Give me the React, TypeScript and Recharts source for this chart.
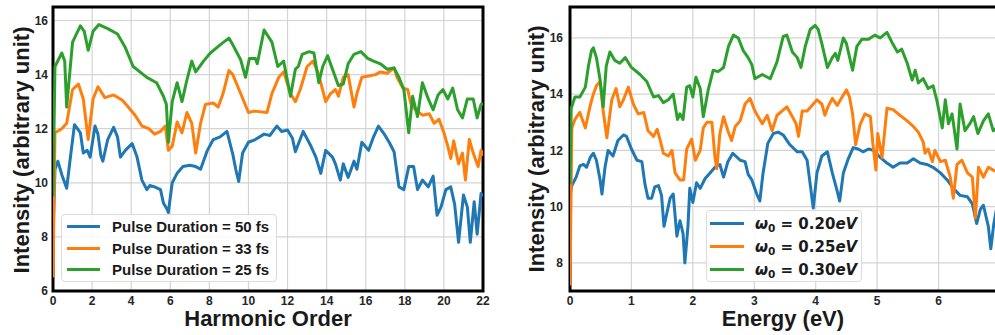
import React from 'react';
import { LineChart, Line, XAxis, YAxis, CartesianGrid, ReferenceArea, Legend } from 'recharts';

const FONT = '"Liberation Sans", Arial, Helvetica, sans-serif';
const MATH_FONT = '"DejaVu Sans", sans-serif';
const COLORS = ['#1f77b4', '#ff7f0e', '#2ca02c'];

// axis ticks
const harmonicTicks = [0, 2, 4, 6, 8, 10, 12, 14, 16, 18, 20, 22];
const harmonicYTicks = [6, 8, 10, 12, 14, 16];
const energyTicks = [0, 1, 2, 3, 4, 5, 6];
const energyYTicks = [8, 10, 12, 14, 16];

const pulseLabels = ['Pulse Duration = 50 fs', 'Pulse Duration = 33 fs', 'Pulse Duration = 25 fs'];
const omegaLabels = ['0.20', '0.25', '0.30'];

// ---- left panel: intensity vs harmonic order ----
const pd50X = [0, 0.1, 0.25, 0.45, 0.7, 0.9, 1.1, 1.25, 1.4, 1.55, 1.75, 1.9, 2.15, 2.3, 2.45, 2.55, 2.8, 3.1, 3.3, 3.45, 3.7, 4.05, 4.3, 4.55, 4.8, 4.95, 5.2, 5.5, 5.65, 5.85, 5.9, 6.1, 6.35, 6.65, 7.0, 7.3, 7.55, 7.9, 8.2, 8.55, 8.9, 9.2, 9.35, 9.5, 9.7, 10.0, 10.35, 10.8, 11.1, 11.45, 11.7, 12.0, 12.25, 12.4, 12.8, 13.2, 13.45, 13.7, 13.95, 14.3, 14.45, 14.7, 14.85, 15.1, 15.4, 15.55, 15.8, 16.15, 16.4, 16.65, 16.95, 17.2, 17.45, 17.7, 17.95, 18.2, 18.45, 18.65, 18.9, 19.2, 19.45, 19.65, 19.85, 20.1, 20.35, 20.55, 20.75, 21.0, 21.2, 21.35, 21.55, 21.7, 21.9, 22.0];
const pd50Y = [8.0, 10.5, 10.8, 10.3, 9.8, 11.0, 12.15, 12.0, 11.85, 11.1, 11.2, 10.95, 12.1, 11.8, 11.0, 10.8, 11.6, 12.05, 11.7, 10.95, 11.2, 11.45, 10.95, 10.1, 9.75, 9.9, 9.85, 9.75, 9.25, 9.0, 8.9, 10.0, 10.35, 10.6, 10.65, 10.6, 10.5, 11.2, 11.6, 11.7, 11.9, 11.05, 10.5, 10.05, 11.1, 11.5, 11.6, 11.8, 11.75, 12.1, 11.9, 11.95, 11.65, 11.15, 11.9, 11.35, 10.95, 10.35, 11.2, 10.95, 10.7, 10.1, 10.7, 10.2, 10.8, 10.5, 11.5, 11.2, 11.7, 12.1, 11.8, 11.5, 11.15, 9.85, 9.75, 10.6, 10.6, 9.75, 10.1, 9.85, 10.25, 8.8, 9.1, 9.75, 9.85, 9.2, 7.8, 9.55, 9.1, 7.8, 9.3, 8.1, 9.6, 9.5];

const pd33X = [0, 0.1, 0.45, 0.7, 1.0, 1.3, 1.55, 1.8, 2.05, 2.3, 2.65, 3.1, 3.55, 3.85, 4.2, 4.55, 4.9, 5.2, 5.5, 5.75, 5.9, 6.1, 6.35, 6.6, 6.85, 7.1, 7.3, 7.55, 7.8, 8.2, 8.45, 8.7, 9.0, 9.2, 9.6, 10.0, 10.3, 10.95, 11.2, 11.55, 11.8, 12.15, 12.4, 12.65, 13.0, 13.3, 13.55, 13.7, 13.95, 14.2, 14.45, 14.6, 14.85, 15.1, 15.4, 15.55, 15.8, 16.15, 16.5, 16.75, 17.1, 17.45, 17.6, 17.9, 18.15, 18.3, 18.55, 18.9, 19.25, 19.5, 19.75, 20.0, 20.2, 20.35, 20.5, 20.75, 20.95, 21.1, 21.3, 21.5, 21.75, 21.9, 22.0];
const pd33Y = [6.5, 11.85, 12.0, 12.2, 13.45, 13.65, 13.1, 11.6, 13.1, 13.55, 13.15, 13.25, 13.05, 12.8, 12.5, 12.1, 12.0, 11.8, 11.9, 12.1, 11.2, 11.35, 12.25, 11.85, 12.6, 12.2, 11.1, 12.2, 12.9, 12.95, 12.8, 13.3, 14.15, 14.0, 13.3, 12.6, 12.65, 12.6, 13.3, 13.9, 14.1, 13.3, 13.0, 13.45, 14.3, 14.5, 14.1, 13.7, 13.0, 13.3, 13.45, 13.2, 13.9, 14.0, 12.8, 13.3, 13.9, 13.95, 14.0, 14.1, 14.05, 14.25, 13.9, 13.5, 13.45, 12.95, 12.7, 12.5, 12.55, 12.2, 12.35, 11.85, 11.35, 10.9, 11.55, 10.7, 11.1, 10.1, 11.6, 11.1, 10.6, 11.2, 11.0];

const pd25X = [0, 0.1, 0.45, 0.6, 0.7, 1.0, 1.4, 1.6, 1.8, 2.05, 2.35, 2.8, 3.3, 3.7, 4.1, 4.8, 5.3, 5.65, 5.8, 5.9, 6.1, 6.35, 6.6, 6.85, 7.1, 7.3, 7.5, 7.7, 8.05, 8.55, 9.0, 9.2, 9.6, 9.85, 10.05, 10.35, 10.45, 10.8, 11.2, 11.5, 11.8, 12.15, 12.4, 12.55, 12.75, 13.1, 13.35, 13.6, 13.8, 14.05, 14.3, 14.6, 14.85, 15.1, 15.4, 15.75, 16.1, 16.4, 16.75, 17.1, 17.45, 17.7, 17.95, 18.2, 18.4, 18.65, 18.9, 19.2, 19.45, 19.7, 19.95, 20.2, 20.45, 20.7, 20.95, 21.2, 21.5, 21.7, 21.9, 22.0];
const pd25Y = [9.5, 14.3, 14.8, 14.5, 12.8, 15.2, 15.8, 15.6, 14.9, 15.6, 15.85, 15.7, 15.5, 15.0, 14.3, 13.9, 13.7, 13.2, 12.9, 11.5, 13.0, 13.7, 13.0, 13.8, 14.5, 14.1, 14.3, 14.5, 14.8, 15.1, 15.35, 15.1, 14.55, 13.9, 14.6, 14.6, 14.4, 15.65, 15.2, 14.3, 14.5, 13.2, 14.2, 14.3, 14.75, 14.85, 14.8, 13.7, 14.3, 14.7, 14.2, 13.6, 13.65, 14.4, 14.75, 14.85, 14.6, 14.5, 14.4, 14.2, 14.25, 13.9, 13.45, 11.85, 13.2, 12.45, 13.7, 13.1, 12.7, 13.25, 13.45, 13.1, 13.5, 12.7, 12.4, 13.1, 13.1, 12.4, 12.9, 12.9];

// ---- right panel: intensity vs energy ----
const w20X = [0, 0.03, 0.1, 0.16, 0.22, 0.27, 0.33, 0.38, 0.43, 0.49, 0.52, 0.57, 0.62, 0.7, 0.78, 0.87, 0.92, 1.0, 1.09, 1.17, 1.22, 1.27, 1.33, 1.38, 1.44, 1.49, 1.53, 1.58, 1.63, 1.68, 1.74, 1.79, 1.84, 1.87, 1.92, 1.95, 2.0, 2.06, 2.12, 2.2, 2.28, 2.36, 2.44, 2.5, 2.57, 2.65, 2.77, 2.85, 2.9, 2.96, 3.04, 3.09, 3.14, 3.22, 3.31, 3.39, 3.47, 3.58, 3.7, 3.78, 3.86, 3.91, 3.96, 4.02, 4.1, 4.19, 4.27, 4.35, 4.39, 4.45, 4.53, 4.61, 4.69, 4.77, 4.86, 4.94, 5.05, 5.16, 5.26, 5.37, 5.49, 5.59, 5.7, 5.81, 5.91, 6.03, 6.14, 6.24, 6.35, 6.47, 6.55, 6.62, 6.68, 6.73, 6.81, 6.85, 6.9, 6.95, 7.0];
const w20Y = [10.4, 10.75, 11.05, 11.45, 11.5, 11.4, 11.75, 11.9, 11.65, 10.95, 10.45, 11.4, 12.0, 11.8, 12.35, 12.55, 12.5, 12.05, 11.65, 11.6, 10.8, 10.3, 10.3, 10.7, 10.75, 10.4, 9.3, 9.8, 10.3, 10.45, 8.95, 9.5, 9.05, 8.0, 9.3, 10.65, 10.15, 10.85, 10.65, 11.0, 11.2, 11.4, 11.5, 11.05, 11.6, 11.9, 11.65, 11.6, 11.15, 10.95, 10.45, 10.2, 11.15, 12.25, 12.6, 12.65, 12.55, 12.2, 11.95, 11.95, 11.65, 10.8, 9.95, 11.2, 11.8, 11.95, 11.2, 10.55, 10.2, 11.2, 11.7, 12.1, 12.05, 11.95, 12.05, 12.0, 11.75, 11.55, 11.4, 11.55, 11.55, 11.7, 11.55, 11.5, 11.4, 11.2, 10.95, 10.65, 10.4, 10.35, 10.1, 9.4, 9.9, 10.05, 9.3, 8.5, 9.4, 10.0, 10.0];

const w25X = [0, 0.03, 0.08, 0.16, 0.25, 0.33, 0.38, 0.43, 0.49, 0.54, 0.6, 0.68, 0.75, 0.81, 0.87, 0.95, 1.03, 1.11, 1.2, 1.27, 1.36, 1.42, 1.47, 1.52, 1.6, 1.66, 1.71, 1.79, 1.85, 1.9, 1.98, 2.04, 2.12, 2.17, 2.23, 2.31, 2.36, 2.39, 2.44, 2.5, 2.57, 2.63, 2.69, 2.77, 2.85, 2.93, 3.01, 3.13, 3.21, 3.29, 3.37, 3.45, 3.53, 3.62, 3.68, 3.72, 3.78, 3.86, 3.94, 4.02, 4.1, 4.15, 4.2, 4.27, 4.35, 4.43, 4.5, 4.55, 4.6, 4.65, 4.72, 4.8, 4.89, 4.93, 4.98, 5.01, 5.08, 5.16, 5.26, 5.37, 5.49, 5.59, 5.67, 5.75, 5.78, 5.83, 5.9, 5.94, 6.03, 6.11, 6.19, 6.24, 6.3, 6.38, 6.47, 6.55, 6.6, 6.65, 6.73, 6.81, 6.89, 7.0];
const w25Y = [7.2, 12.8, 13.1, 13.35, 12.8, 13.6, 14.0, 14.3, 14.45, 13.4, 12.45, 13.8, 14.2, 13.55, 13.8, 14.25, 13.65, 13.3, 13.35, 12.7, 12.5, 12.75, 12.35, 11.9, 11.8, 12.0, 11.2, 10.95, 10.95, 12.05, 12.4, 11.65, 12.0, 12.8, 13.0, 13.0, 11.75, 11.35, 12.6, 13.2, 12.7, 12.35, 12.85, 13.05, 13.65, 13.85, 13.4, 12.95, 13.25, 12.7, 13.25, 13.4, 13.55, 13.2, 12.95, 12.5, 13.4, 13.4, 13.6, 13.8, 13.65, 13.25, 13.55, 13.85, 13.6, 13.9, 14.15, 13.9, 13.3, 12.2, 12.9, 13.3, 13.2, 12.25, 11.3, 12.6, 11.75, 13.5, 13.45, 13.25, 13.05, 12.85, 12.65, 12.3, 11.9, 12.05, 11.6, 12.0, 11.6, 11.65, 11.05, 10.3, 11.5, 11.65, 11.2, 11.05, 9.6, 11.4, 11.05, 11.4, 11.3, 11.2];

const w30X = [0, 0.02, 0.08, 0.16, 0.25, 0.3, 0.35, 0.38, 0.43, 0.49, 0.54, 0.59, 0.65, 0.73, 0.81, 0.9, 1.0, 1.14, 1.25, 1.36, 1.44, 1.52, 1.6, 1.68, 1.75, 1.79, 1.84, 1.9, 1.95, 2.0, 2.05, 2.12, 2.17, 2.25, 2.33, 2.41, 2.5, 2.58, 2.66, 2.74, 2.82, 2.9, 2.96, 3.01, 3.13, 3.26, 3.37, 3.47, 3.53, 3.62, 3.7, 3.76, 3.83, 3.91, 3.99, 4.04, 4.1, 4.19, 4.27, 4.32, 4.36, 4.45, 4.5, 4.6, 4.67, 4.75, 4.86, 4.96, 5.05, 5.16, 5.24, 5.33, 5.4, 5.49, 5.57, 5.62, 5.67, 5.75, 5.83, 5.91, 5.97, 6.06, 6.11, 6.16, 6.22, 6.3, 6.35, 6.43, 6.51, 6.57, 6.64, 6.73, 6.81, 6.89, 7.0];
const w30Y = [10.8, 13.5, 13.9, 13.9, 14.25, 15.0, 15.55, 15.65, 15.3, 14.5, 13.55, 15.0, 15.5, 15.2, 15.1, 15.3, 14.95, 14.7, 14.45, 13.9, 13.95, 13.7, 13.8, 14.0, 13.1, 13.3, 13.1, 14.25, 14.3, 13.9, 14.6, 14.2, 13.2, 14.15, 14.85, 14.8, 14.95, 15.7, 16.1, 16.0, 15.55, 15.3, 15.05, 14.55, 14.7, 14.55, 15.15, 16.05, 16.1, 15.5, 15.3, 14.95, 15.7, 16.3, 16.45, 16.3, 15.8, 14.95, 15.3, 15.45, 15.2, 16.0, 15.8, 14.85, 15.7, 15.95, 15.95, 16.1, 16.0, 16.2, 15.85, 15.5, 15.6, 15.1, 14.5, 14.85, 14.4, 14.55, 14.2, 14.3, 13.8, 12.8, 13.8, 12.95, 13.3, 12.05, 13.65, 12.7, 12.95, 13.2, 12.6, 13.05, 13.3, 12.7, 12.9];

const zip = (xs: number[], ys: number[]) =>
  xs.slice(0, Math.min(xs.length, ys.length)).map((x, i) => ({ x, y: ys[i] }));

const harmonicSeries = [zip(pd50X, pd50Y), zip(pd33X, pd33Y), zip(pd25X, pd25Y)];
const energySeries = [zip(w20X, w20Y), zip(w25X, w25Y), zip(w30X, w30Y)];

const tickStyle = { fill: '#262626', fontSize: 12, fontWeight: 700, fontFamily: FONT };

// legends keep the plotting order (blue, orange, green) instead of recharts' sorted payload
const PulseLegend = () => (
  <div style={{
    width: 216, height: 68, boxSizing: 'border-box', background: 'rgba(255,255,255,0.85)',
    border: '1px solid #dcdcdc', borderRadius: 4, paddingTop: 1, paddingLeft: 5,
  }}>
    {pulseLabels.map((label, i) => (
      <div key={i} style={{ display: 'flex', alignItems: 'center', height: 21.5 }}>
        <span style={{ display: 'inline-block', width: 33, height: 3, background: COLORS[i], marginRight: 12 }} />
        <span style={{ fontFamily: FONT, fontWeight: 700, fontSize: 15, color: '#1a1a1a', whiteSpace: 'nowrap' }}>
          {label}
        </span>
      </div>
    ))}
  </div>
);

const OmegaLegend = () => (
  <div style={{
    width: 156, height: 72, boxSizing: 'border-box', background: 'rgba(255,255,255,0.85)',
    border: '1px solid #dcdcdc', borderRadius: 4, paddingTop: 1, paddingLeft: 3,
  }}>
    {omegaLabels.map((label, i) => (
      <div key={i} style={{ display: 'flex', alignItems: 'center', height: 23 }}>
        <span style={{ display: 'inline-block', width: 34, height: 3, background: COLORS[i], marginRight: 11 }} />
        <span style={{ fontFamily: MATH_FONT, fontWeight: 700, fontSize: 15, color: '#1a1a1a', whiteSpace: 'nowrap' }}>
          <i>ω</i>
          <span style={{ fontSize: 10.5, position: 'relative', top: 3 }}>0</span>
          {' = ' + label}
          <i>eV</i>
        </span>
      </div>
    ))}
  </div>
);

export default function App() {
  return (
    <div style={{ position: 'absolute', left: 0, top: 0, width: 995, height: 335, overflow: 'hidden', background: '#fff' }}>
      {/* Harmonic order panel */}
      <div style={{ position: 'absolute', left: 0, top: 0 }}>
        <LineChart width={500} height={335} margin={{ top: 7, right: 17, bottom: 14, left: 23 }}>
          <CartesianGrid stroke="#d4d4d4" strokeWidth={1.2} />
          <XAxis type="number" dataKey="x" domain={[0, 22]} ticks={harmonicTicks} allowDataOverflow
            axisLine={false} tickLine={false} tickSize={3} tickMargin={2} height={30} tick={tickStyle} />
          <YAxis type="number" domain={[6, 16.5]} ticks={harmonicYTicks} allowDataOverflow
            axisLine={false} tickLine={false} tickSize={3} tickMargin={2} width={30} tick={tickStyle} />
          <ReferenceArea x1={0} x2={22} y1={6} y2={16.5} fill="none" stroke="#000" strokeWidth={3} ifOverflow="visible" />
          {harmonicSeries.map((d, i) => (
            <Line key={i} data={d} dataKey="y" name={pulseLabels[i]} type="linear" stroke={COLORS[i]}
              strokeWidth={3} dot={false} isAnimationActive={false} strokeLinejoin="round" />
          ))}
          <Legend layout="horizontal" verticalAlign="middle" align="center" content={<PulseLegend />}
            wrapperStyle={{ left: 61, top: 214, width: 216, height: 68 }} />
        </LineChart>
      </div>

      {/* Energy panel */}
      <div style={{ position: 'absolute', left: 500, top: 0 }}>
        <LineChart width={505} height={335} margin={{ top: 7, right: 5, bottom: 14, left: 36 }}>
          <CartesianGrid stroke="#d4d4d4" strokeWidth={1.2} />
          <XAxis type="number" dataKey="x" domain={[0, 7]} ticks={energyTicks} allowDataOverflow
            axisLine={false} tickLine={false} tickSize={3} tickMargin={2} height={30} tick={tickStyle} />
          <YAxis type="number" domain={[7, 17.1]} ticks={energyYTicks} allowDataOverflow
            axisLine={false} tickLine={false} tickSize={5} tickMargin={2} width={34} tick={tickStyle} />
          <ReferenceArea x1={0} x2={7} y1={7} y2={17.1} fill="none" stroke="#000" strokeWidth={3} ifOverflow="visible" />
          {energySeries.map((d, i) => (
            <Line key={i} data={d} dataKey="y" name={'ω0 = ' + omegaLabels[i] + 'eV'} type="linear" stroke={COLORS[i]}
              strokeWidth={3} dot={false} isAnimationActive={false} strokeLinejoin="round" />
          ))}
          <Legend layout="horizontal" verticalAlign="middle" align="center" content={<OmegaLegend />}
            wrapperStyle={{ left: 206, top: 210, width: 156, height: 72 }} />
        </LineChart>
      </div>

      {/* axis titles */}
      <svg width={995} height={335} style={{ position: 'absolute', left: 0, top: 0, pointerEvents: 'none' }}>
        <g fontFamily={FONT} fontWeight={700} fontSize={22} fill="#1a1a1a">
          <text x={268} y={326} textAnchor="middle">Harmonic Order</text>
          <text x={783} y={326} textAnchor="middle">Energy (eV)</text>
          <text transform="translate(28.5,150) rotate(-90)" textAnchor="middle">Intensity (arbitrary unit)</text>
          <text transform="translate(543.5,149) rotate(-90)" textAnchor="middle">Intensity (arbitrary unit)</text>
        </g>
      </svg>
    </div>
  );
}
